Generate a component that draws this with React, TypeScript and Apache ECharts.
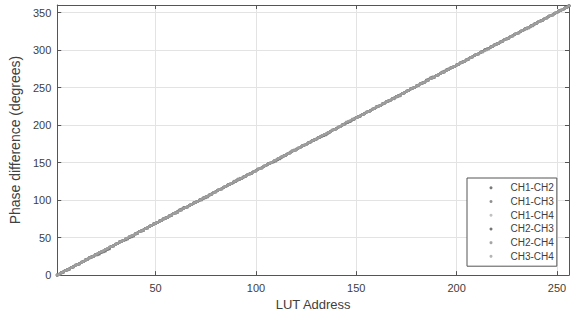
import React, { useEffect, useRef } from "react";
import * as echarts from "echarts";

// LUT addresses (x)
const lutAddress = [
  1, 2, 3, 4, 5, 6, 7, 8, 9, 10, 11, 12, 13, 14, 15, 16, 17, 18, 19, 20, 21, 22, 23, 24, 25, 26, 27, 28, 29, 30, 31, 32,
  33, 34, 35, 36, 37, 38, 39, 40, 41, 42, 43, 44, 45, 46, 47, 48, 49, 50, 51, 52, 53, 54, 55, 56, 57, 58, 59, 60, 61, 62, 63, 64,
  65, 66, 67, 68, 69, 70, 71, 72, 73, 74, 75, 76, 77, 78, 79, 80, 81, 82, 83, 84, 85, 86, 87, 88, 89, 90, 91, 92, 93, 94, 95, 96,
  97, 98, 99, 100, 101, 102, 103, 104, 105, 106, 107, 108, 109, 110, 111, 112, 113, 114, 115, 116, 117, 118, 119, 120, 121, 122, 123, 124, 125, 126, 127, 128,
  129, 130, 131, 132, 133, 134, 135, 136, 137, 138, 139, 140, 141, 142, 143, 144, 145, 146, 147, 148, 149, 150, 151, 152, 153, 154, 155, 156, 157, 158, 159, 160,
  161, 162, 163, 164, 165, 166, 167, 168, 169, 170, 171, 172, 173, 174, 175, 176, 177, 178, 179, 180, 181, 182, 183, 184, 185, 186, 187, 188, 189, 190, 191, 192,
  193, 194, 195, 196, 197, 198, 199, 200, 201, 202, 203, 204, 205, 206, 207, 208, 209, 210, 211, 212, 213, 214, 215, 216, 217, 218, 219, 220, 221, 222, 223, 224,
  225, 226, 227, 228, 229, 230, 231, 232, 233, 234, 235, 236, 237, 238, 239, 240, 241, 242, 243, 244, 245, 246, 247, 248, 249, 250, 251, 252, 253, 254, 255, 256,
];

// Measured phase differences (degrees), one array per channel pair
const ch1ch2 = [
  0, 1, 3, 4, 6, 7, 8, 10, 11, 13, 14, 15, 17, 18, 20, 21, 23, 24, 25, 27, 28, 30, 31, 32, 34, 35, 37, 38, 39, 41, 42, 44,
  45, 46, 48, 49, 51, 52, 53, 55, 56, 58, 59, 60, 62, 63, 65, 66, 68, 69, 70, 72, 73, 75, 76, 77, 79, 80, 82, 83, 85, 87, 88, 90,
  90, 91, 93, 94, 96, 97, 98, 100, 101, 103, 104, 105, 107, 108, 110, 111, 113, 114, 115, 117, 118, 120, 121, 122, 124, 125, 127, 128, 129, 131, 132, 134,
  135, 136, 138, 139, 141, 142, 143, 145, 146, 148, 149, 150, 152, 153, 155, 156, 158, 159, 160, 162, 163, 165, 166, 167, 169, 170, 172, 173, 174, 176, 177, 179,
  180, 181, 183, 184, 186, 187, 188, 190, 191, 193, 194, 195, 197, 198, 200, 201, 203, 204, 205, 207, 208, 210, 211, 212, 214, 215, 217, 218, 219, 221, 222, 224,
  225, 226, 228, 229, 231, 232, 233, 235, 236, 238, 239, 240, 242, 243, 245, 246, 248, 249, 250, 252, 253, 255, 256, 257, 260, 261, 263, 264, 264, 266, 267, 269,
  270, 271, 273, 274, 276, 277, 278, 280, 281, 283, 284, 285, 287, 288, 290, 291, 293, 294, 295, 297, 298, 300, 301, 302, 304, 305, 307, 308, 309, 311, 312, 314,
  315, 316, 318, 319, 321, 322, 323, 325, 326, 328, 329, 330, 332, 333, 335, 336, 338, 339, 340, 342, 343, 345, 346, 347, 349, 350, 352, 353, 354, 356, 357, 359,
];
const ch1ch3 = [
  0, 1, 3, 4, 6, 7, 8, 10, 11, 13, 14, 15, 17, 18, 20, 21, 23, 24, 25, 27, 28, 30, 31, 32, 34, 35, 37, 38, 39, 41, 42, 44,
  45, 46, 48, 49, 51, 52, 53, 55, 56, 58, 59, 60, 62, 63, 65, 66, 68, 69, 70, 72, 73, 75, 76, 77, 79, 80, 82, 83, 84, 86, 87, 89,
  90, 91, 93, 94, 96, 97, 98, 100, 100, 102, 103, 104, 107, 108, 110, 111, 113, 114, 115, 117, 118, 120, 121, 122, 124, 125, 127, 128, 129, 131, 132, 134,
  135, 136, 138, 139, 141, 142, 143, 145, 146, 148, 149, 150, 152, 153, 155, 156, 158, 159, 160, 162, 163, 165, 166, 167, 169, 170, 172, 173, 174, 176, 177, 179,
  180, 181, 183, 184, 186, 187, 188, 190, 191, 193, 194, 195, 197, 198, 200, 201, 203, 204, 205, 207, 208, 210, 211, 212, 214, 215, 217, 218, 219, 221, 222, 224,
  225, 226, 228, 229, 231, 232, 233, 235, 236, 238, 239, 240, 242, 243, 245, 246, 248, 249, 250, 252, 253, 255, 256, 257, 259, 260, 262, 263, 264, 266, 267, 269,
  271, 272, 274, 275, 276, 277, 278, 280, 281, 283, 284, 285, 287, 288, 290, 291, 293, 294, 295, 297, 298, 300, 301, 302, 304, 305, 307, 308, 309, 311, 312, 314,
  315, 316, 318, 319, 321, 322, 323, 325, 326, 328, 329, 330, 332, 333, 335, 336, 338, 339, 340, 342, 343, 345, 346, 347, 349, 350, 352, 353, 354, 356, 357, 359,
];
const ch1ch4 = [
  0, 1, 3, 4, 6, 7, 8, 10, 11, 13, 14, 15, 17, 18, 20, 21, 23, 24, 25, 27, 28, 30, 31, 32, 34, 35, 37, 38, 39, 41, 42, 44,
  45, 46, 48, 49, 51, 52, 53, 55, 56, 58, 59, 60, 62, 63, 65, 66, 68, 69, 70, 72, 73, 75, 76, 77, 79, 80, 82, 83, 84, 86, 87, 89,
  90, 91, 93, 94, 96, 97, 98, 100, 101, 103, 104, 105, 107, 108, 110, 111, 113, 114, 115, 117, 118, 120, 121, 122, 124, 125, 127, 128, 129, 131, 132, 134,
  135, 136, 138, 139, 141, 142, 143, 145, 146, 148, 149, 150, 152, 153, 155, 156, 158, 159, 160, 162, 164, 166, 167, 168, 169, 170, 172, 173, 174, 176, 177, 179,
  180, 181, 183, 184, 186, 187, 188, 190, 191, 193, 194, 195, 197, 198, 200, 201, 203, 204, 205, 207, 208, 210, 211, 212, 214, 215, 217, 218, 219, 221, 222, 224,
  225, 226, 228, 229, 231, 232, 233, 235, 236, 238, 239, 240, 242, 243, 245, 246, 248, 249, 250, 252, 253, 255, 256, 257, 259, 260, 262, 263, 264, 266, 267, 269,
  270, 271, 273, 274, 276, 277, 278, 280, 281, 283, 284, 285, 287, 288, 290, 291, 293, 294, 295, 297, 298, 300, 301, 302, 304, 305, 307, 308, 309, 311, 312, 314,
  315, 316, 318, 319, 321, 322, 323, 325, 326, 328, 328, 329, 331, 332, 335, 336, 338, 339, 340, 342, 343, 345, 346, 347, 349, 350, 352, 353, 354, 356, 357, 359,
];
const ch2ch3 = [
  0, 1, 3, 4, 6, 7, 8, 10, 11, 13, 14, 15, 17, 18, 20, 21, 23, 24, 25, 27, 27, 28, 30, 31, 32, 34, 35, 38, 39, 41, 42, 44,
  45, 46, 47, 48, 50, 51, 52, 55, 56, 58, 59, 60, 62, 63, 65, 66, 68, 69, 70, 72, 73, 75, 76, 77, 79, 80, 82, 83, 84, 86, 87, 89,
  90, 91, 93, 94, 96, 97, 98, 100, 101, 103, 104, 105, 107, 108, 110, 111, 113, 114, 115, 117, 118, 120, 121, 122, 124, 125, 127, 128, 129, 131, 132, 134,
  135, 136, 138, 139, 141, 142, 143, 145, 146, 148, 149, 150, 151, 152, 154, 155, 157, 159, 160, 162, 163, 165, 166, 167, 169, 170, 172, 173, 174, 176, 177, 179,
  180, 181, 183, 184, 185, 186, 187, 189, 191, 193, 194, 195, 197, 198, 200, 201, 203, 204, 205, 207, 208, 210, 211, 212, 214, 215, 217, 218, 219, 221, 222, 224,
  225, 226, 228, 229, 231, 232, 233, 235, 236, 238, 239, 240, 242, 243, 245, 246, 248, 249, 250, 252, 253, 255, 256, 257, 259, 260, 262, 263, 264, 266, 267, 269,
  270, 271, 273, 274, 276, 277, 278, 280, 281, 283, 284, 285, 287, 288, 290, 291, 293, 294, 295, 297, 298, 300, 301, 302, 304, 305, 307, 308, 309, 311, 312, 314,
  315, 316, 318, 319, 321, 322, 323, 325, 326, 328, 329, 330, 332, 333, 335, 336, 338, 339, 340, 342, 343, 345, 346, 347, 349, 350, 352, 353, 354, 356, 357, 359,
];
const ch2ch4 = [
  0, 1, 3, 4, 6, 7, 8, 10, 11, 13, 14, 15, 17, 18, 20, 21, 23, 24, 25, 27, 28, 30, 31, 32, 34, 35, 37, 38, 39, 41, 42, 44,
  45, 46, 48, 49, 51, 52, 53, 55, 56, 58, 59, 60, 62, 63, 65, 66, 68, 69, 70, 72, 73, 75, 76, 77, 79, 80, 82, 83, 84, 86, 87, 89,
  90, 91, 93, 94, 96, 97, 98, 100, 101, 103, 104, 105, 107, 108, 110, 111, 113, 114, 115, 117, 118, 120, 121, 122, 125, 126, 128, 129, 129, 131, 132, 134,
  135, 136, 138, 139, 141, 142, 143, 145, 146, 148, 149, 150, 152, 153, 155, 156, 158, 159, 160, 162, 163, 165, 166, 167, 169, 170, 172, 173, 174, 176, 177, 179,
  180, 181, 183, 184, 186, 187, 188, 190, 191, 193, 194, 195, 197, 198, 200, 201, 203, 204, 205, 207, 208, 210, 211, 212, 214, 215, 217, 218, 219, 221, 222, 224,
  225, 226, 228, 229, 231, 232, 233, 235, 235, 237, 238, 239, 242, 243, 245, 246, 248, 249, 250, 252, 253, 255, 256, 257, 259, 260, 262, 263, 264, 266, 267, 269,
  270, 271, 273, 274, 276, 277, 278, 280, 281, 283, 284, 285, 287, 288, 290, 291, 293, 294, 295, 297, 298, 300, 301, 302, 304, 305, 307, 308, 309, 311, 312, 314,
  315, 316, 318, 319, 321, 322, 323, 325, 326, 328, 329, 330, 332, 333, 335, 336, 338, 339, 340, 342, 343, 345, 346, 347, 349, 350, 352, 353, 354, 356, 357, 359,
];
const ch3ch4 = [
  0, 1, 3, 4, 6, 7, 8, 10, 11, 13, 14, 15, 17, 18, 20, 21, 23, 24, 25, 27, 28, 30, 31, 32, 34, 35, 37, 38, 39, 41, 42, 44,
  45, 46, 48, 49, 51, 52, 53, 55, 56, 58, 59, 60, 62, 63, 65, 66, 68, 69, 70, 72, 73, 75, 76, 77, 79, 80, 82, 83, 84, 86, 87, 89,
  90, 91, 93, 94, 96, 97, 98, 100, 101, 103, 104, 105, 107, 108, 110, 111, 113, 114, 115, 117, 118, 120, 121, 122, 124, 125, 127, 128, 129, 131, 132, 134,
  135, 136, 138, 139, 141, 142, 143, 145, 146, 148, 149, 150, 152, 153, 155, 156, 158, 159, 160, 162, 163, 165, 166, 167, 169, 170, 172, 173, 174, 176, 177, 179,
  180, 181, 183, 184, 186, 187, 188, 190, 191, 193, 194, 195, 197, 198, 200, 201, 204, 205, 206, 208, 208, 210, 211, 212, 214, 215, 217, 218, 219, 221, 222, 224,
  225, 226, 228, 229, 231, 232, 233, 235, 236, 238, 239, 240, 242, 243, 245, 246, 248, 249, 250, 252, 253, 255, 256, 257, 259, 260, 262, 263, 264, 266, 267, 269,
  270, 271, 273, 274, 276, 277, 278, 280, 281, 283, 284, 285, 287, 288, 290, 291, 293, 294, 295, 297, 297, 299, 300, 301, 304, 305, 307, 308, 309, 311, 312, 314,
  315, 316, 318, 319, 321, 322, 323, 325, 326, 328, 329, 330, 332, 333, 335, 336, 338, 339, 340, 342, 343, 345, 346, 347, 349, 350, 352, 353, 354, 356, 357, 359,
];

const seriesNames = ["CH1-CH2", "CH1-CH3", "CH1-CH4", "CH2-CH3", "CH2-CH4", "CH3-CH4"];
const seriesValues = [ch1ch2, ch1ch3, ch1ch4, ch2ch3, ch2ch4, ch3ch4];
const seriesColors = ["#595959", "#747474", "#b2b2b2", "#525252", "#8e8e8e", "#a2a2a2"];

const xRange = [1, 256];
const yRange = [0, 360];
const yInterval = 50;

const FONT = "'Liberation Sans', Arial, sans-serif";
const AXIS_COLOR = "#555555";
const TEXT_COLOR = "#404040";
const GRID_COLOR = "#e3e3e3";

export default function App() {
  const ref = useRef<HTMLDivElement>(null);

  useEffect(() => {
    if (!ref.current) return;
    const chart = echarts.init(ref.current, null, { renderer: "svg" });

    const boxAxisCommon = {
      axisLine: { show: true, onZero: false, lineStyle: { color: AXIS_COLOR, width: 1 } },
      axisTick: { show: true, inside: true, length: 4, lineStyle: { color: AXIS_COLOR } },
    };

    chart.setOption({
      animation: false,
      backgroundColor: "#ffffff",
      textStyle: { fontFamily: FONT },
      grid: { left: 55, right: 11, top: 5, bottom: 40, containLabel: false },
      legend: {
        orient: "vertical",
        left: 467,
        top: 178,
        data: seriesNames,
        icon: "circle",
        itemWidth: 3,
        itemHeight: 3,
        itemGap: 0,
        padding: [3, 3, 3, 22.5],
        borderColor: AXIS_COLOR,
        borderWidth: 1,
        backgroundColor: "#ffffff",
        textStyle: {
          fontFamily: FONT,
          fontSize: 10,
          color: TEXT_COLOR,
          lineHeight: 13.7,
          padding: [0, 0, 0, 13],
        },
      },
      xAxis: [
        {
          type: "value",
          min: xRange[0],
          max: xRange[1],
          position: "bottom",
          name: "LUT Address",
          nameLocation: "middle",
          nameGap: 22,
          nameTextStyle: { fontFamily: FONT, fontSize: 13, color: TEXT_COLOR },
          ...boxAxisCommon,
          axisLabel: {
            show: true,
            showMinLabel: false,
            showMaxLabel: false,
            margin: 7,
            fontFamily: FONT,
            fontSize: 11,
            color: TEXT_COLOR,
          },
          splitLine: { show: true, lineStyle: { color: GRID_COLOR, width: 1 } },
        },
        {
          type: "value",
          min: xRange[0],
          max: xRange[1],
          position: "top",
          ...boxAxisCommon,
          axisLabel: { show: false },
          splitLine: { show: false },
        },
      ],
      yAxis: [
        {
          type: "value",
          min: yRange[0],
          max: yRange[1],
          interval: yInterval,
          position: "left",
          name: "Phase difference (degrees)",
          nameLocation: "middle",
          nameGap: 21,
          nameTextStyle: { fontFamily: FONT, fontSize: 14, color: TEXT_COLOR },
          ...boxAxisCommon,
          axisLabel: {
            show: true,
            showMaxLabel: false,
            margin: 6,
            fontFamily: FONT,
            fontSize: 11,
            color: TEXT_COLOR,
          },
          splitLine: { show: true, lineStyle: { color: GRID_COLOR, width: 1 } },
        },
        {
          type: "value",
          min: yRange[0],
          max: yRange[1],
          interval: yInterval,
          position: "right",
          ...boxAxisCommon,
          axisLabel: { show: false },
          splitLine: { show: false },
        },
      ],
      series: seriesNames.map((name, si) => ({
        name,
        type: "scatter",
        xAxisIndex: 0,
        yAxisIndex: 0,
        symbol: "circle",
        symbolSize: 3,
        itemStyle: { color: seriesColors[si] },
        emphasis: { disabled: true },
        data: lutAddress.map((a, i) => [a, seriesValues[si][i]]),
      })),
    });

    return () => chart.dispose();
  }, []);

  return (
    <div
      ref={ref}
      style={{ position: "fixed", left: 0, top: 0, width: 580, height: 316, background: "#fff" }}
    />
  );
}
